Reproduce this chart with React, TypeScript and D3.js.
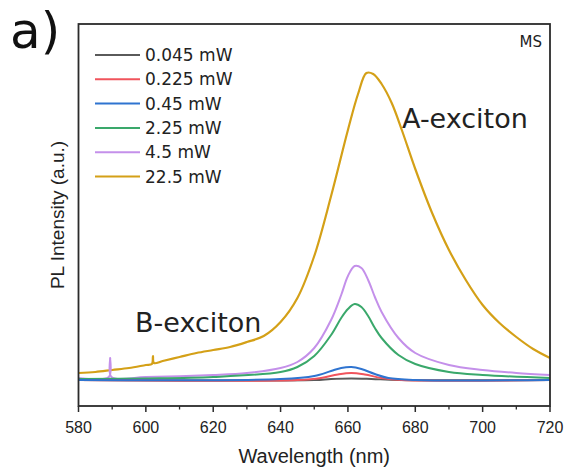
import React from "react";
import * as d3 from "d3";

const W = 566, H = 472;
const M = { left: 78.5, right: 550, top: 24, bottom: 406 };

const seriesNames = ["0.045 mW", "0.225 mW", "0.45 mW", "2.25 mW", "4.5 mW", "22.5 mW"];
const seriesColors = ["#5a5a5a", "#f0545c", "#2f74d0", "#3aa86b", "#c490ea", "#d4a017"];

const xTicks = [580, 600, 620, 640, 660, 680, 700, 720];
const xMinorTicks = [590, 610, 630, 650, 670, 690, 710];

// [wavelength nm, PL intensity a.u.]
const s0045: [number, number][] = [[580, 26], [650, 26], [655, 27], [661, 27.5], [667, 27], [675, 26], [720, 26]];
const s0225: [number, number][] = [[580, 26], [645, 26], [652, 28], [657, 31.5], [661, 33], [665, 31.5], [670, 28], [676, 26], [720, 26]];
const s045: [number, number][] = [[580, 26], [640, 27], [650, 30], [655, 35], [658, 38], [661, 39], [664, 37], [668, 32], [672, 28], [680, 26], [720, 26]];
const s225: [number, number][] = [[580, 27], [600, 27.5], [620, 29], [640, 34], [645, 39], [650, 50], [655, 71], [658, 88], [660, 97], [662, 102], [664, 99], [666, 90], [668, 78], [670, 68], [675, 51], [680, 42], [690, 34], [700, 31], [720, 28]];
const s45: [number, number][] = [[580, 28], [589, 29], [589.4, 48], [589.8, 29], [600, 29], [620, 31], [630, 33], [640, 38], [645, 44], [650, 58], [655, 86], [658, 111], [660, 130], [662, 140], [664, 138], [666, 126], [668, 109], [670, 94], [675, 68], [680, 53], [690, 41], [700, 36], [710, 33], [720, 31]];
const s225b: [number, number][] = [[580, 33], [585, 34], [590, 36], [595, 38], [600, 41], [601.8, 42], [602.1, 50], [602.4, 43], [605, 45], [610, 49], [615, 53], [620, 56], [625, 59], [630, 64], [635, 70], [640, 84], [645, 108], [650, 150], [655, 210], [660, 276], [663, 312], [665.5, 333], [667.5, 332], [670, 322], [673, 303], [676, 276], [680, 237], [685, 193], [690, 156], [695, 126], [700, 101], [705, 83], [710, 69], [715, 57], [720, 48]];

const seriesData = [s0045, s0225, s045, s225, s45, s225b];
const drawOrder = [5, 4, 3, 0, 1, 2];

export default function App() {
  const x = d3.scaleLinear().domain([580, 720]).range([M.left, M.right]);
  const y = d3.scaleLinear().domain([0, 382]).range([M.bottom, M.top]);
  const line = d3
    .line<[number, number]>()
    .x((d) => x(d[0]))
    .y((d) => y(d[1]))
    .curve(d3.curveCatmullRom.alpha(0.5));

  const tickFont = "'Liberation Sans', Arial, sans-serif";
  const dejavu = "'DejaVu Sans', sans-serif";

  return (
    <svg
      width={W}
      height={H}
      style={{ position: "absolute", left: 0, top: 0, background: "#fff" }}
    >
      <defs>
        <clipPath id="plotclip">
          <rect x={M.left} y={M.top} width={M.right - M.left} height={M.bottom - M.top} />
        </clipPath>
      </defs>
      <rect x={0} y={0} width={W} height={H} fill="#fff" />
      <g clipPath="url(#plotclip)">
        {drawOrder.map((i) => (
          <path
            key={i}
            d={line(seriesData[i]) || ""}
            fill="none"
            stroke={seriesColors[i]}
            strokeWidth={i === 5 ? 2.2 : 2}
            strokeLinejoin="round"
          />
        ))}
      </g>
      {/* frame */}
      <rect
        x={M.left}
        y={M.top}
        width={M.right - M.left}
        height={M.bottom - M.top}
        fill="none"
        stroke="#2b2b2b"
        strokeWidth={1.8}
      />
      {/* x ticks */}
      {xTicks.map((t) => (
        <g key={t}>
          <line x1={x(t)} x2={x(t)} y1={M.bottom} y2={M.bottom + 6} stroke="#2b2b2b" strokeWidth={1.5} />
          <text
            x={x(t)}
            y={M.bottom + 27}
            textAnchor="middle"
            fontFamily={tickFont}
            fontSize={16}
            fill="#222"
          >
            {t}
          </text>
        </g>
      ))}
      {xMinorTicks.map((t) => (
        <line key={t} x1={x(t)} x2={x(t)} y1={M.bottom} y2={M.bottom + 3.5} stroke="#2b2b2b" strokeWidth={1.3} />
      ))}
      <text
        x={(M.left + M.right) / 2}
        y={463}
        textAnchor="middle"
        fontFamily={tickFont}
        fontSize={20}
        fill="#222"
      >
        Wavelength (nm)
      </text>
      <text
        transform={`translate(64, ${(M.top + M.bottom) / 2}) rotate(-90)`}
        textAnchor="middle"
        fontFamily={tickFont}
        fontSize={19}
        fill="#222"
      >
        PL Intensity (a.u.)
      </text>
      {/* legend */}
      {seriesNames.map((n, i) => (
        <g key={n}>
          <line x1={95} x2={140} y1={55 + i * 24.3} y2={55 + i * 24.3} stroke={seriesColors[i]} strokeWidth={2} />
          <text
            x={145}
            y={55 + i * 24.3 + 6}
            fontFamily={dejavu}
            fontSize={17}
            fill="#222"
          >
            {n}
          </text>
        </g>
      ))}
      <text x={542} y={47} textAnchor="end" fontFamily={dejavu} fontSize={15} fill="#222">
        MS
      </text>
      <text x={402} y={128} fontFamily={dejavu} fontSize={27} fill="#222">
        A-exciton
      </text>
      <text x={135} y={332} fontFamily={dejavu} fontSize={27} fill="#222">
        B-exciton
      </text>
      <text x={10} y={48} fontFamily={dejavu} fontSize={50} fill="#111">
        a)
      </text>
    </svg>
  );
}
